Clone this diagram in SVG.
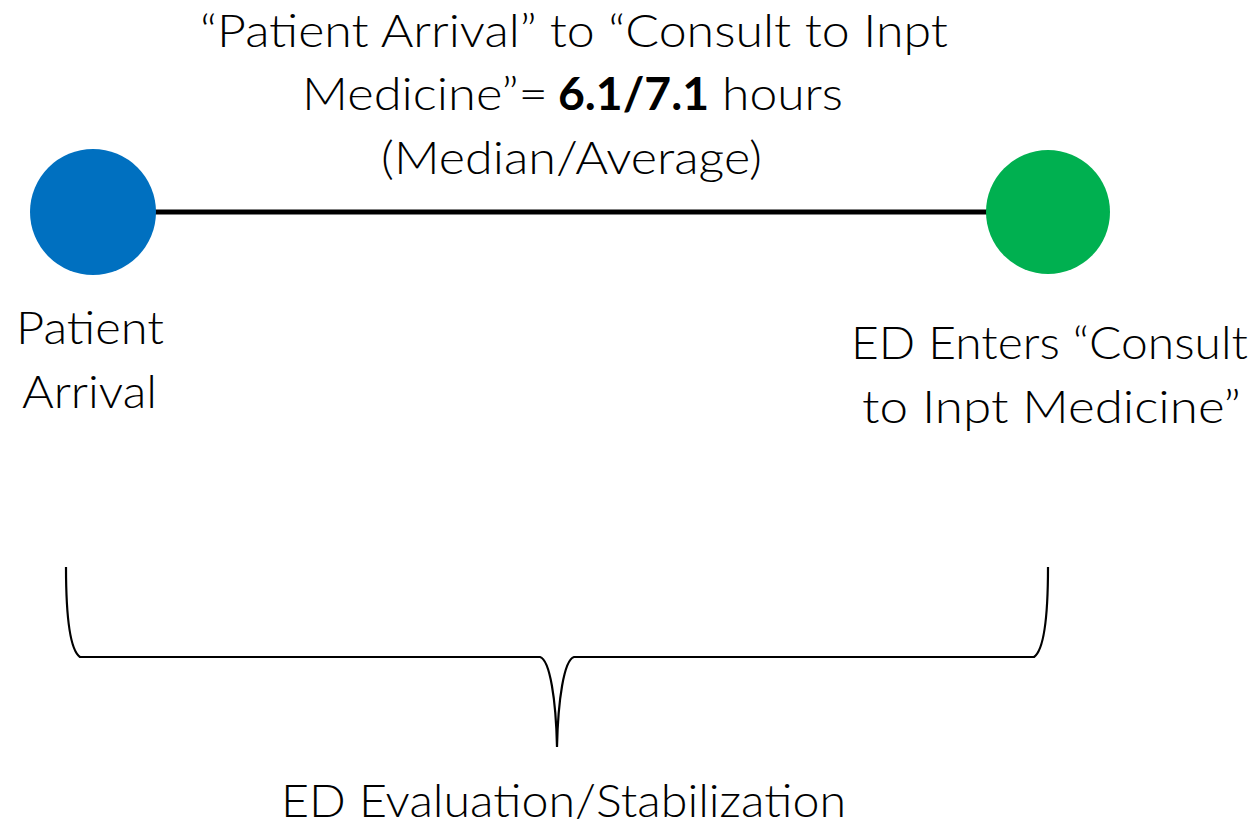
<svg xmlns="http://www.w3.org/2000/svg" width="1258" height="827" viewBox="0 0 1258 827">
  <style>
    .lbl { font-family: Lato, "Open Sans", "Liberation Sans", sans-serif; font-weight: 300; font-size: 45px; fill: #000; }
    .bold { font-weight: 700; }
    .conn { stroke: #000; fill: none; }
  </style>
  <rect width="1258" height="827" fill="#fff"/>

  <g id="connectors">
    <line class="conn" x1="150" y1="212" x2="992" y2="212" stroke-width="5"/>
    <path id="brace" class="conn" stroke-width="2.2"
      d="M66,567 C66,620 70,650 80,657 L540,657 C550,660 556,700 557,747 C558,700 564,660 574,657 L1034,657 C1044,650 1048,620 1048,567"/>
  </g>

  <g id="title">
    <text class="lbl" x="200" y="47" textLength="748" lengthAdjust="spacingAndGlyphs">“Patient Arrival” to “Consult to Inpt</text>
    <text class="lbl" x="302" y="110" textLength="246" lengthAdjust="spacingAndGlyphs">Medicine”=</text>
    <text class="lbl bold" x="558" y="110" textLength="151" lengthAdjust="spacingAndGlyphs">6.1/7.1</text>
    <text class="lbl" x="722" y="110" textLength="121" lengthAdjust="spacingAndGlyphs">hours</text>
    <text class="lbl" x="381" y="174" textLength="381" lengthAdjust="spacingAndGlyphs">(Median/Average)</text>
  </g>

  <g id="patient-arrival">
    <circle cx="93" cy="212" r="63" fill="#0070C0"/>
    <text class="lbl" x="16" y="344" textLength="148" lengthAdjust="spacingAndGlyphs">Patient</text>
    <text class="lbl" x="22" y="408" textLength="135" lengthAdjust="spacingAndGlyphs">Arrival</text>
  </g>

  <g id="consult-entered">
    <circle cx="1048" cy="212" r="62" fill="#00B050"/>
    <text class="lbl" x="851" y="359" textLength="397" lengthAdjust="spacingAndGlyphs">ED Enters “Consult</text>
    <text class="lbl" x="862" y="423" textLength="379" lengthAdjust="spacingAndGlyphs">to Inpt Medicine”</text>
  </g>

  <g id="phase">
    <text class="lbl" x="281" y="817" textLength="565" lengthAdjust="spacingAndGlyphs">ED Evaluation/Stabilization</text>
  </g>
</svg>
